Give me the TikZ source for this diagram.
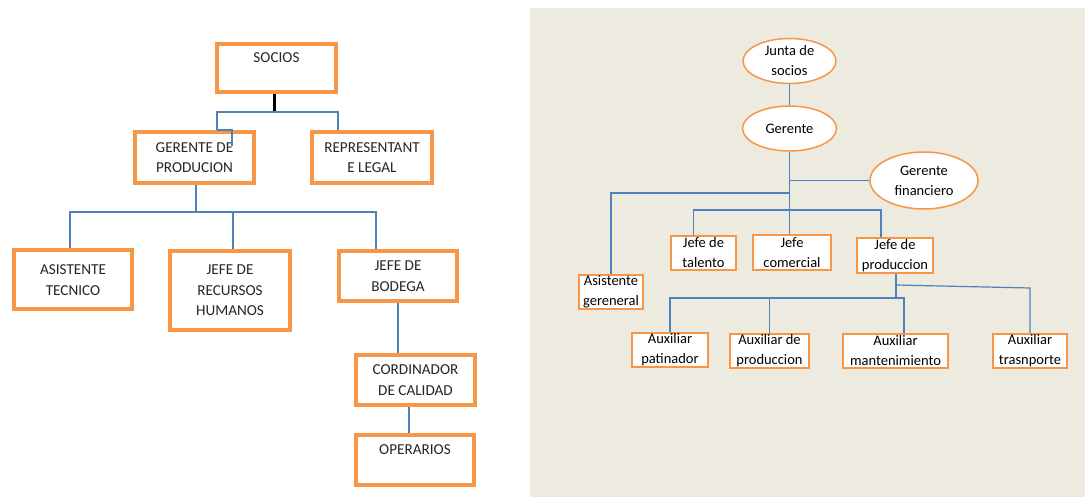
\documentclass[tikz,border=0pt]{standalone}
\usepackage{fontspec}
\setmainfont{Carlito}
\usetikzlibrary{shapes.geometric,backgrounds}
\definecolor{orng}{HTML}{F79646}
\definecolor{blu}{HTML}{4F81BD}
\definecolor{beige}{HTML}{EDEAE0}
\newcommand\chartfont{\fontsize{14.5}{20}\selectfont}
\newcommand\leftfont{\fontsize{15.2}{20.5}\selectfont}
\pgfdeclarelayer{bg}
\pgfsetlayers{bg,background,main}
\begin{document}
\begin{tikzpicture}[x=1pt,y=-1pt,
 lbox/.style={draw=orng, line width=4pt, fill=white, rectangle, inner sep=0pt, align=center, text=black!85, font=\leftfont},
 rbox/.style={draw=orng, line width=2pt, fill=white, rectangle, inner sep=0pt, align=center, font=\chartfont},
 rell/.style={draw=orng, line width=1.5pt, fill=white, ellipse, inner sep=0pt},
 ltext/.style={align=center, font=\chartfont},
 lline/.style={draw=blu, line width=2pt},
 rline/.style={draw=blu, line width=1.2pt},
 kline/.style={draw=black, line width=3pt},
 ]
\useasboundingbox (0,0) rectangle (1085,497);
\begin{pgfonlayer}{bg}
\fill[beige] (530,8) rectangle (1085,497);
\end{pgfonlayer}

% ---------- left chart ----------
\node[lbox, minimum width=119pt, minimum height=48pt] (socios) at (276.5,68) {SOCIOS\\\phantom{X}};
\node[lbox, minimum width=119pt, minimum height=51pt] (gerprod) at (194.5,157.5) {GERENTE DE\\PRODUCION};
\node[lbox, minimum width=120pt, minimum height=51pt] (rep) at (372,157.5) {REPRESENTANT\\E LEGAL};
\node[lbox, minimum width=118pt, minimum height=59pt] (asis) at (73,280) {ASISTENTE\\TECNICO};
\node[lbox, minimum width=120pt, minimum height=79pt] (rrhh) at (230,290.5) {JEFE DE\\RECURSOS\\HUMANOS};
\node[lbox, minimum width=118pt, minimum height=50pt] (bodega) at (398,276) {JEFE DE\\BODEGA};
\node[lbox, minimum width=119pt, minimum height=50pt] (cord) at (415.5,380) {CORDINADOR\\DE CALIDAD};
\node[lbox, minimum width=118pt, minimum height=50pt] (oper) at (415,460) {OPERARIOS\\\phantom{X}};

\coordinate (lj1) at (274,112);
\coordinate (lj2) at (196,212);

\begin{pgfonlayer}{background}
\draw[kline] (socios.south -| lj1) -- (lj1);
\draw[lline] ([xshift=22.5pt]gerprod.north) |- (lj1) -| ([xshift=-34pt]rep.north);
\draw[lline] (gerprod.south -| lj2) -- (lj2);
\draw[lline] ([xshift=-3pt]asis.north) |- (lj2) -| ([xshift=-22pt]bodega.north);
\draw[lline] ([xshift=3pt]rrhh.north) -- ([xshift=3pt]rrhh.north |- lj2);
\draw[lline] (bodega.south) -- (bodega.south |- cord.north);
\draw[lline] ([xshift=-6.5pt]cord.south) -- ([xshift=-6.5pt]cord.south |- oper.north);
\end{pgfonlayer}
\draw[lline] ([xshift=22.5pt]gerprod.north) -- ([xshift=37.5pt]gerprod.north) -- ++(0,16);

% ---------- right chart ----------
\node[rell, minimum width=93pt, minimum height=45pt, label={[ltext]center:{Junta de\\socios}}] (junta) at (789.5,61) {};
\node[rell, minimum width=94pt, minimum height=45pt, label={[ltext]center:Gerente}] (ger) at (789.5,128.5) {};
\node[rell, minimum width=108pt, minimum height=57pt, label={[ltext]center:{Gerente\\financiero}}] (fin) at (924,180.5) {};

\node[rbox, minimum width=64pt, minimum height=34pt] (asisg) at (611,292) {Asistente\\gereneral};
\node[rbox, minimum width=65pt, minimum height=34pt] (tal) at (703.5,253) {Jefe de\\talento};
\node[rbox, minimum width=78pt, minimum height=35pt] (com) at (792,252.5) {Jefe\\comercial};
\node[rbox, minimum width=76pt, minimum height=35pt] (prod) at (895,255.5) {Jefe de\\produccion};
\node[rbox, minimum width=76.5pt, minimum height=34pt] (pat) at (670,350) {Auxiliar\\patinador};
\node[rbox, minimum width=79pt, minimum height=34pt] (aprod) at (769.5,351) {Auxiliar de\\produccion};
\node[rbox, minimum width=105pt, minimum height=34pt] (mant) at (895.5,351) {Auxiliar\\mantenimiento};
\node[rbox, minimum width=74pt, minimum height=34pt] (trans) at (1030,351) {Auxiliar\\trasnporte};

\coordinate (rj) at (789.5,210);
\coordinate (ra) at (789.5,193);
\coordinate (rk) at (896,298);
\coordinate (rs) at (896,285);
\coordinate (rt) at (1030,288);

\begin{pgfonlayer}{background}
\draw[rline] (junta.south) -- (ger.north);
\draw[rline] (ger.south) -- (rj);
\draw[rline] (ger.south |- fin.west) -- (fin.west);
\draw[rline] (ra) -| (asisg.north);
\draw[rline] ([xshift=-10pt]tal.north) |- (rj) -| ([xshift=-14pt]prod.north);
\draw[rline] (rj) -- (rj |- com.north);
\draw[rline] (prod.south -| rk) -- (rk);
\draw[rline] (pat.north) |- (rk) -| ([xshift=8.5pt]mant.north);
\draw[rline] (aprod.north) -- (aprod.north |- rk);
\draw[rline] (rs) -- (rt) -- (trans.north);
\end{pgfonlayer}
\end{tikzpicture}
\end{document}
